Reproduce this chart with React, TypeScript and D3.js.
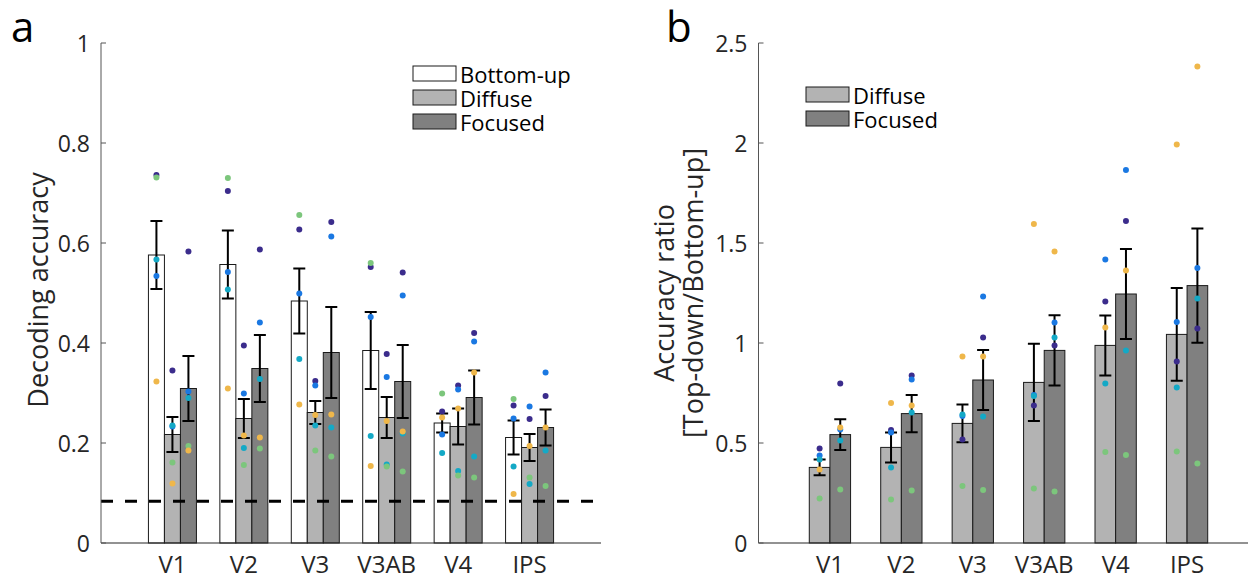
import React, { useEffect, useRef } from "react";
import * as d3 from "d3";

// regions + conditions
const regions = ["V1", "V2", "V3", "V3AB", "V4", "IPS"];
const conditionsA = ["Bottom-up", "Diffuse", "Focused"];
const conditionsB = ["Diffuse", "Focused"];

// panel a: decoding accuracy (group means and SEM)
const accBottomUp = [0.576, 0.557, 0.484, 0.385, 0.24, 0.211];
const accDiffuse = [0.217, 0.249, 0.261, 0.251, 0.233, 0.191];
const accFocused = [0.309, 0.349, 0.381, 0.323, 0.291, 0.231];
const semBottomUp = [0.068, 0.068, 0.065, 0.077, 0.019, 0.034];
const semDiffuse = [0.035, 0.039, 0.023, 0.041, 0.036, 0.027];
const semFocused = [0.065, 0.067, 0.091, 0.073, 0.054, 0.036];
const chance = 1 / 12;

// single subjects (rows = subjects, cols = regions)
const subjBottomUp = [
    [0.736, 0.704, 0.627, 0.552, 0.263, 0.275],
    [0.534, 0.542, 0.499, 0.452, 0.217, 0.249],
    [0.567, 0.507, 0.368, 0.214, 0.18, 0.153],
    [0.731, 0.73, 0.656, 0.56, 0.299, 0.288],
    [0.323, 0.309, 0.277, 0.154, 0.251, 0.098]
];
const subjDiffuse = [
    [0.345, 0.395, 0.324, 0.378, 0.315, 0.248],
    [0.233, 0.299, 0.315, 0.332, 0.307, 0.273],
    [0.235, 0.19, 0.235, 0.157, 0.144, 0.118],
    [0.161, 0.156, 0.185, 0.153, 0.135, 0.131],
    [0.119, 0.215, 0.256, 0.244, 0.269, 0.194]
];
const subjFocused = [
    [0.583, 0.587, 0.642, 0.541, 0.42, 0.294],
    [0.303, 0.441, 0.613, 0.495, 0.403, 0.341],
    [0.29, 0.328, 0.231, 0.219, 0.173, 0.185],
    [0.194, 0.189, 0.173, 0.143, 0.131, 0.114],
    [0.185, 0.211, 0.257, 0.223, 0.341, 0.231]
];

// panel b: accuracy ratio top-down / bottom-up
const ratioDiffuse = [0.378, 0.478, 0.598, 0.803, 0.988, 1.043];
const ratioFocused = [0.542, 0.647, 0.815, 0.963, 1.245, 1.287];
const ratioSemDiffuse = [0.039, 0.075, 0.094, 0.193, 0.15, 0.232];
const ratioSemFocused = [0.077, 0.093, 0.15, 0.176, 0.225, 0.286];
const subjRatioDiffuse = [
    [0.472, 0.565, 0.518, 0.688, 1.208, 0.907],
    [0.437, 0.553, 0.635, 0.74, 1.418, 1.105],
    [0.418, 0.377, 0.643, 0.735, 0.798, 0.778],
    [0.222, 0.217, 0.285, 0.273, 0.455, 0.457],
    [0.368, 0.7, 0.932, 1.595, 1.078, 1.993]
];
const subjRatioFocused = [
    [0.797, 0.838, 1.028, 0.987, 1.61, 1.073],
    [0.568, 0.818, 1.233, 1.102, 1.865, 1.375],
    [0.513, 0.652, 0.633, 1.028, 0.963, 1.222],
    [0.267, 0.262, 0.265, 0.258, 0.44, 0.398],
    [0.578, 0.687, 0.932, 1.458, 1.363, 2.383]
];

const ticksA = [0, 0.2, 0.4, 0.6, 0.8, 1];
const ticksB = [0, 0.5, 1, 1.5, 2, 2.5];

const subjColors = ["#3b2c8c", "#1a78e2", "#14a9c6", "#7cc67c", "#efb74a"];
const barFills = { "Bottom-up": "#ffffff", "Diffuse": "#b3b3b3", "Focused": "#808080" };
const FONT = "'Open Sans', sans-serif";
const TXT = "#262626";

const App = () => {
    const ref = useRef(null);

    useEffect(() => {
        const svg = d3.select(ref.current);
        svg.selectAll("*").remove();

        const drawPanel = (opt) => {
            const { x, y, ticks, conds, means, sems, subj, barW, legend } = opt;
            const g = svg.append("g");
            const nC = conds.length;
            const off = (k) => (k - (nC - 1) / 2) * barW;

            // bars
            conds.forEach((c, k) => {
                g.selectAll(null)
                    .data(means[k]).enter()
                    .append("rect")
                    .attr("x", (d, i) => x(i + 1 + off(k) - barW / 2))
                    .attr("width", x(barW) - x(0))
                    .attr("y", d => y(d))
                    .attr("height", d => y(0) - y(d))
                    .attr("fill", barFills[c])
                    .attr("stroke", "#1a1a1a")
                    .attr("stroke-width", 1);
            });

            if (opt.chance !== undefined) {
                g.append("line")
                    .attr("x1", x.range()[0]).attr("x2", x.range()[1])
                    .attr("y1", y(opt.chance)).attr("y2", y(opt.chance))
                    .attr("stroke", "#000")
                    .attr("stroke-width", 3)
                    .attr("stroke-dasharray", "12,12");
            }

            // error bars
            conds.forEach((c, k) => {
                means[k].forEach((m, i) => {
                    const cx = x(i + 1 + off(k));
                    const lo = y(m - sems[k][i]), hi = y(m + sems[k][i]);
                    g.append("path")
                        .attr("d", `M${cx},${lo}V${hi}M${cx - 6},${lo}H${cx + 6}M${cx - 6},${hi}H${cx + 6}`)
                        .attr("stroke", "#000")
                        .attr("stroke-width", 2)
                        .attr("fill", "none");
                });
            });

            // subject dots
            conds.forEach((c, k) => {
                subj[k].forEach((row, s) => {
                    g.selectAll(null)
                        .data(row).enter()
                        .append("circle")
                        .attr("cx", (d, i) => x(i + 1 + off(k)))
                        .attr("cy", d => y(d))
                        .attr("r", 3)
                        .attr("fill", subjColors[s]);
                });
            });

            // axes
            const x0 = x.range()[0];
            g.append("line")
                .attr("x1", x0).attr("x2", x.range()[1])
                .attr("y1", y(0)).attr("y2", y(0))
                .attr("stroke", "#262626").attr("stroke-width", 1.2);
            g.append("line")
                .attr("x1", x0).attr("x2", x0)
                .attr("y1", y(0)).attr("y2", y(ticks[ticks.length - 1]))
                .attr("stroke", "#555").attr("stroke-width", 1);
            ticks.forEach(t => {
                g.append("line")
                    .attr("x1", x0).attr("x2", x0 + 5)
                    .attr("y1", y(t)).attr("y2", y(t))
                    .attr("stroke", "#555");
                g.append("text")
                    .attr("x", x0 - 11).attr("y", y(t))
                    .attr("text-anchor", "end")
                    .attr("dominant-baseline", "central")
                    .attr("font-family", FONT).attr("font-size", 23)
                    .attr("fill", TXT)
                    .text(String(t));
            });
            regions.forEach((r, i) => {
                g.append("text")
                    .attr("x", x(i + 1)).attr("y", 573)
                    .attr("text-anchor", "middle")
                    .attr("font-family", FONT).attr("font-size", 24)
                    .attr("fill", TXT)
                    .text(r);
            });

            // legend
            conds.forEach((c, k) => {
                const ly = legend.y + k * 24;
                g.append("rect")
                    .attr("x", legend.x).attr("y", ly)
                    .attr("width", 43).attr("height", 15)
                    .attr("fill", barFills[c])
                    .attr("stroke", "#1a1a1a");
                g.append("text")
                    .attr("x", legend.x + 47).attr("y", ly + 8)
                    .attr("dominant-baseline", "central")
                    .attr("font-family", FONT).attr("font-size", 22)
                    .attr("fill", "#000")
                    .text(c);
            });
            return g;
        };

        const xa = d3.scaleLinear().domain([0, 7]).range([101, 601]);
        const ya = d3.scaleLinear().domain([0, 1]).range([543, 43]);
        drawPanel({
            x: xa, y: ya, ticks: ticksA, conds: conditionsA,
            means: [accBottomUp, accDiffuse, accFocused],
            sems: [semBottomUp, semDiffuse, semFocused],
            subj: [subjBottomUp, subjDiffuse, subjFocused],
            barW: 0.224, chance: chance,
            legend: { x: 413, y: 66 }
        });

        const xb = d3.scaleLinear().domain([0, 7]).range([758.5, 1258.5]);
        const yb = d3.scaleLinear().domain([0, 2.5]).range([543, 43]);
        drawPanel({
            x: xb, y: yb, ticks: ticksB, conds: conditionsB,
            means: [ratioDiffuse, ratioFocused],
            sems: [ratioSemDiffuse, ratioSemFocused],
            subj: [subjRatioDiffuse, subjRatioFocused],
            barW: 0.289,
            legend: { x: 806, y: 87 }
        });

        // axis titles + panel letters
        const vText = (x, y, s) => svg.append("text")
            .attr("transform", `translate(${x},${y}) rotate(-90)`)
            .attr("text-anchor", "middle")
            .attr("font-family", FONT).attr("font-size", 27)
            .attr("fill", TXT)
            .text(s);
        vText(48, 290, "Decoding accuracy");
        vText(674, 293, "Accuracy ratio");
        vText(703, 293, "[Top-down/Bottom-up]");

        svg.append("text").attr("x", 11).attr("y", 42)
            .attr("font-family", FONT).attr("font-size", 42).attr("fill", "#000").text("a");
        svg.append("text").attr("x", 666).attr("y", 42)
            .attr("font-family", FONT).attr("font-size", 42).attr("fill", "#000").text("b");
    }, []);

    return (
        <div style={{ position: "absolute", left: 0, top: 0 }}>
            <svg ref={ref} width={1248} height={577} style={{ display: "block", background: "#fff" }} />
        </div>
    );
};

export default App;
